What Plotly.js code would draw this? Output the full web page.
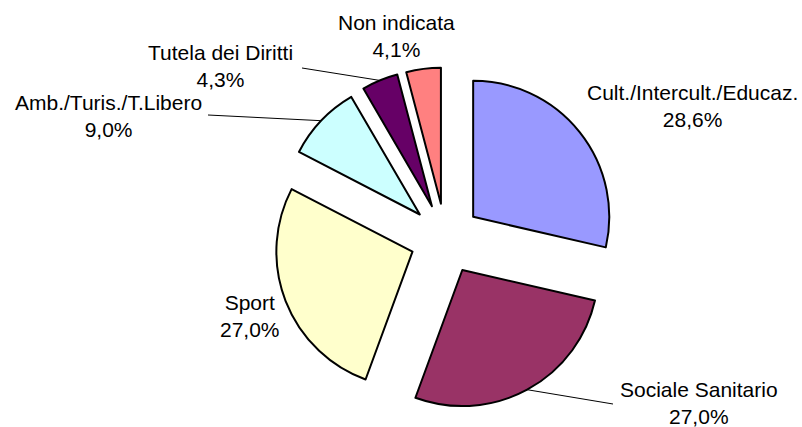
<!DOCTYPE html>
<html>
<head>
<meta charset="utf-8">
<script src="https://cdn.plot.ly/plotly-3.0.1.min.js"></script>
<style>
  body { margin: 0; background: #fff; }
  #plot { width: 802px; height: 427px; }
</style>
</head>
<body>
<div id="plot"></div>
<script>
// Slice data, clockwise from 12 o'clock
let categories = ['Cult./Intercult./Educaz.', 'Sociale Sanitario', 'Sport',
                  'Amb./Turis./T.Libero', 'Tutela dei Diritti', 'Non indicata'];
let shares = [28.6, 27.0, 27.0, 9.0, 4.3, 4.1];
let colors = ['#9999FF', '#993366', '#FFFFCC', '#CCFFFF', '#660066', '#FF8080'];

// Label centres (pixels) and leader line ends, null = no leader line
let labelPos = [[692, 106], [699, 403], [250, 316], [108, 116], [220, 66], [396, 36]];
let leaderEnd = [null, [613, 404], null, [208, 115], [302, 68], null];

const W = 802, H = 427;
const pull = 0.26;
const domX = [0.3416, 0.7693];
const domY = [0.0389, 0.8422];

// same geometry plotly uses for the pie
const cx = (domX[0] + domX[1]) / 2 * W;
const cy = H - (domY[0] + domY[1]) / 2 * H;
const r = Math.min((domX[1] - domX[0]) * W, (domY[1] - domY[0]) * H) / 2 / (1 + pull);

const total = shares.reduce((a, b) => a + b, 0);

function px(x) { return x / W; }
function py(y) { return 1 - y / H; }

// point on the outer arc at the middle of slice i (pulled out)
function arcMid(i) {
    let before = shares.slice(0, i).reduce((a, b) => a + b, 0);
    let ang = (before + shares[i] / 2) / total * 2 * Math.PI;
    let dx = Math.sin(ang), dy = -Math.cos(ang);
    return [cx + dx * r * (1 + pull), cy + dy * r * (1 + pull)];
}

let annotations = [];
let shapes = [];
categories.forEach((name, i) => {
    let pct = shares[i].toFixed(1).replace('.', ',') + '%';
    annotations.push({
        x: px(labelPos[i][0]), y: py(labelPos[i][1]),
        xref: 'paper', yref: 'paper',
        xanchor: 'center', yanchor: 'middle',
        text: name + '<br>' + pct,
        showarrow: false,
        font: { family: 'Liberation Sans, Arial, sans-serif', size: 21, color: '#000' }
    });
    if (leaderEnd[i]) {
        let p = arcMid(i);
        shapes.push({
            type: 'line', xref: 'paper', yref: 'paper',
            x0: px(p[0]), y0: py(p[1]),
            x1: px(leaderEnd[i][0]), y1: py(leaderEnd[i][1]),
            line: { color: '#000', width: 1 }
        });
    }
});

let trace = {
    type: 'pie',
    labels: categories,
    values: shares,
    sort: false,
    direction: 'clockwise',
    rotation: 0,
    pull: shares.map(() => pull),
    textinfo: 'none',
    hoverinfo: 'label+percent',
    marker: { colors: colors, line: { color: '#000', width: 2 } },
    domain: { x: domX, y: domY }
};

let layout = {
    width: W, height: H,
    margin: { l: 0, r: 0, t: 0, b: 0 },
    showlegend: false,
    paper_bgcolor: '#fff',
    annotations: annotations,
    shapes: shapes
};

Plotly.newPlot('plot', [trace], layout, { displayModeBar: false, staticPlot: true });
</script>
</body>
</html>
